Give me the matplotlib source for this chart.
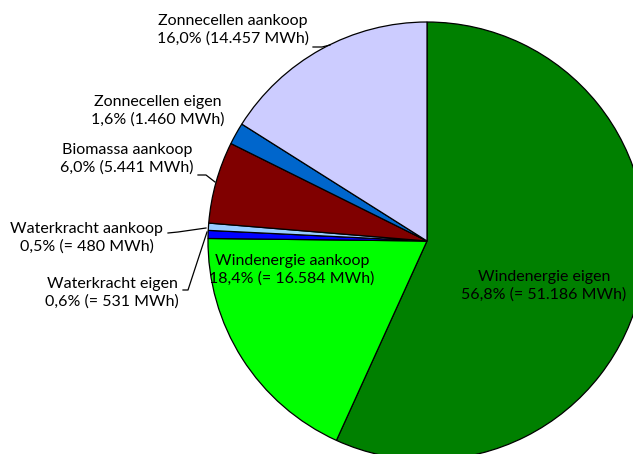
import matplotlib
matplotlib.use("Agg")
import matplotlib.pyplot as plt

categories = ["Windenergie eigen", "Windenergie aankoop", "Waterkracht eigen",
              "Waterkracht aankoop", "Biomassa aankoop", "Zonnecellen eigen",
              "Zonnecellen aankoop"]
mwh = [51186, 16584, 531, 480, 5441, 1460, 14457]
value_labels = ["56,8% (= 51.186 MWh)", "18,4% (= 16.584 MWh)", "0,6% (= 531 MWh)",
                "0,5% (= 480 MWh)", "6,0% (5.441 MWh)", "1,6% (1.460 MWh)",
                "16,0% (14.457 MWh)"]
colors = ["#008000", "#00FF00", "#0000FF", "#99CCFF", "#800000", "#0066CC", "#CCCCFF"]

# label positions (data coords, pie radius = 1)
label_pos = [(0.534, -0.205), (-0.616, -0.132), (-1.438, -0.237), (-1.553, 0.014),
             (-1.370, 0.374), (-1.228, 0.594), (-0.886, 0.963)]

plt.rcParams['font.family'] = ['Lato', 'DejaVu Sans']

W, H, DPI = 633, 454, 100
fig = plt.figure(figsize=(W / DPI, H / DPI), dpi=DPI)
cx, cy, r = 427, 241, 219
ax = fig.add_axes([(cx - r) / W, (H - cy - r) / H, 2 * r / W, 2 * r / H])
ax.pie(mwh, colors=colors, startangle=90, counterclock=False,
       wedgeprops=dict(edgecolor="black", linewidth=0.9), radius=1.0)
ax.set_xlim(-1, 1)
ax.set_ylim(-1, 1)
ax.set_aspect("equal")
ax.axis("off")

def px(x, y):
    return ((x - cx) / r, (cy - y) / r)

for name, vl, (lx, ly) in zip(categories, value_labels, label_pos):
    ax.text(lx, ly, name + "\n" + vl, ha="center", va="center", fontsize=11.5,
            linespacing=1.27, color="black", clip_on=False)

# leader lines (pixel coordinates of the reference)
leaders = [
    [(313, 47), (322, 47), (330, 45)],
    [(198, 175), (206, 175), (215, 182)],
    [(168, 233), (178, 232), (206, 228)],
    [(183, 290), (188, 290), (207, 232)],
]
for pts in leaders:
    xs, ys = zip(*[px(x, y) for x, y in pts])
    ax.plot(xs, ys, color="black", linewidth=0.9, clip_on=False)

fig.savefig("out.png", dpi=DPI)
